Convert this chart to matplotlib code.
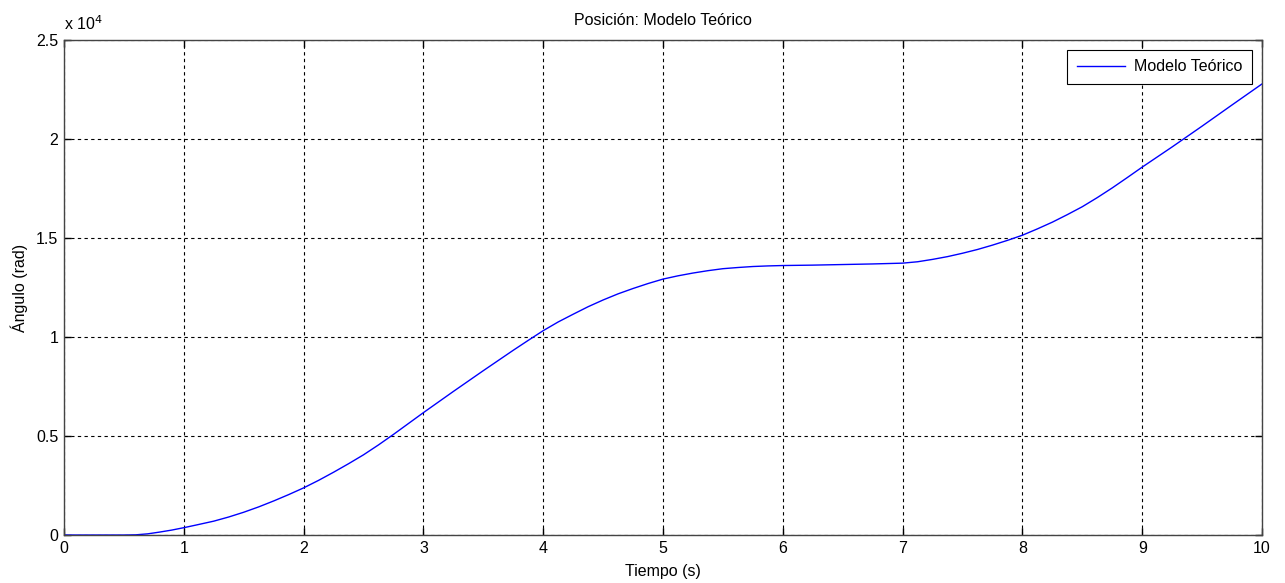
import matplotlib
matplotlib.use('Agg')
from matplotlib import pyplot as plt
from matplotlib.ticker import FuncFormatter
import numpy as np

plt.rcParams['font.family'] = ['Liberation Sans Narrow', 'Liberation Sans', 'DejaVu Sans']

# Posición del modelo teórico
tiempo = [0.0, 0.25, 0.5, 0.6, 0.7, 0.8, 0.9, 1.0, 1.1, 1.25, 1.375, 1.5, 1.625, 1.75, 1.875,
          2.0, 2.125, 2.25, 2.375, 2.5, 2.625, 2.75, 2.875, 3.0, 3.25, 3.5, 3.75, 3.875,
          4.0, 4.125, 4.25, 4.375, 4.5, 4.625, 4.75, 4.875, 5.0, 5.125, 5.25, 5.375,
          5.5, 5.625, 5.75, 5.875, 6.0, 6.25, 6.5, 6.75, 7.0, 7.125, 7.25, 7.375,
          7.5, 7.625, 7.75, 7.875, 8.0, 8.125, 8.25, 8.375, 8.5, 8.625, 8.75, 8.875,
          9.0, 9.25, 9.5, 9.75, 10.0]
angulo = [0, 0, 0, 10, 60, 150, 250, 370, 500, 700, 910, 1150, 1420, 1720, 2040,
          2380, 2760, 3170, 3600, 4050, 4550, 5080, 5630, 6180, 7250, 8300, 9330, 9830,
          10320, 10760, 11150, 11530, 11870, 12180, 12450, 12700, 12925, 13090, 13230, 13350,
          13450, 13510, 13560, 13590, 13610, 13630, 13660, 13690, 13730, 13800, 13920, 14060,
          14230, 14420, 14640, 14880, 15140, 15460, 15800, 16180, 16580, 17040, 17530, 18050,
          18580, 19600, 20650, 21720, 22780]

xticks = list(range(0, 11))
yticks = [0, 5000, 10000, 15000, 20000, 25000]

fig = plt.figure(figsize=(12.85, 5.83), dpi=100)
ax = fig.add_axes([0.0498, 0.0823, 0.9323, 0.8491])

ax.plot(tiempo, angulo, color='#0000ff', linewidth=1.0, label='Modelo Teórico')

ax.set_xlim(0, 10)
ax.set_ylim(0, 25000)
ax.set_xticks(xticks)
ax.set_yticks(yticks)
ax.yaxis.set_major_formatter(FuncFormatter(lambda v, p: '%g' % (v / 1e4)))
ax.tick_params(direction='in', top=True, right=True, length=5, width=1,
               labelsize=11.5, colors='black', pad=4)
ax.grid(True, color='black', linestyle=(0, (3, 3)), linewidth=0.8)
for s in ax.spines.values():
    s.set_linewidth(1.0)
    s.set_color('#444444')

ax.set_title('Posición: Modelo Teórico', fontsize=11.5, pad=11)
ax.set_xlabel('Tiempo (s)', fontsize=11.5, labelpad=6)
ax.set_ylabel('Ángulo (rad)', fontsize=11.5, labelpad=6)
ax.text(0.0, 1.014, r'x 10$^4$', transform=ax.transAxes, fontsize=11.5,
        ha='left', va='bottom')

leg = ax.legend(loc='upper right', fontsize=11.5, fancybox=False, framealpha=1,
                edgecolor='black', borderaxespad=0.6, handlelength=3.0,
                borderpad=0.6, handletextpad=0.6)
leg.get_frame().set_linewidth(0.8)

fig.savefig('out.png', dpi=100)
